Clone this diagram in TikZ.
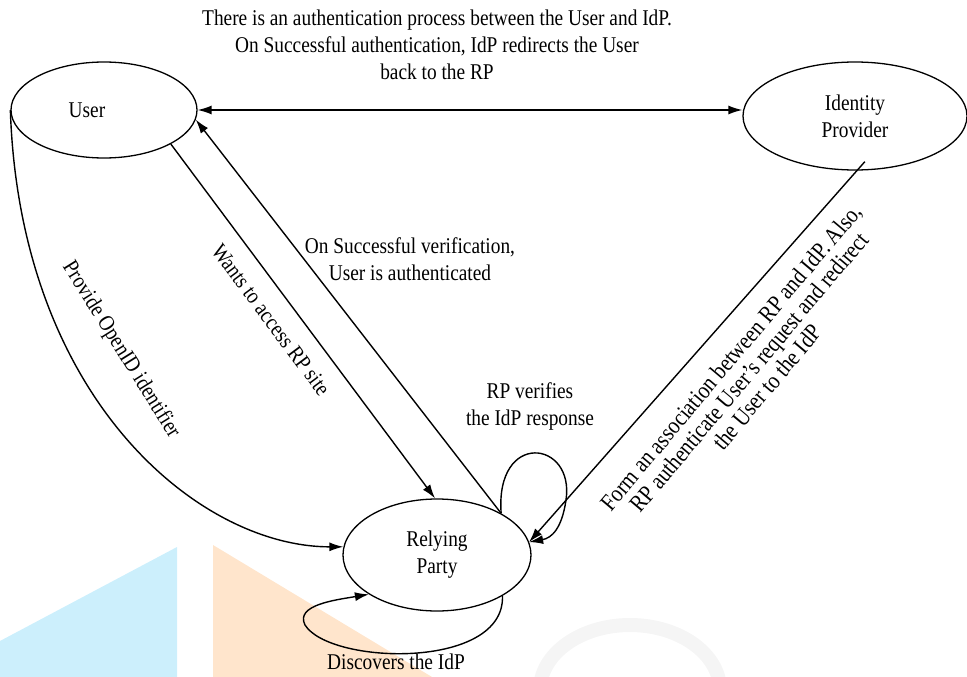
\documentclass[tikz,border=0pt]{standalone}
\usepackage{fontspec}
\setmainfont{Liberation Serif}[FakeStretch=0.86]
\usetikzlibrary{shapes.geometric,arrows.meta}

\begin{document}
\begin{tikzpicture}[x=1pt,y=-1pt,
	every node/.style={font=\fontsize{22.5}{27}\selectfont},
	party/.style={ellipse,draw,line width=1.3pt,fill=white,inner sep=0pt},
	link/.style={line width=1.4pt},
	>={Latex[length=14pt,width=9pt]}]
	\useasboundingbox (0,0) rectangle (967,677);
	\fill[cyan!20] (0,641) -- (177,547) -- (177,677) -- (0,677) -- cycle;
	\fill[orange!20] (213,545) -- (432,677) -- (213,677) -- cycle;
	\draw[black!4,line width=14pt] (540,690) arc[start angle=180,end angle=360,x radius=90,y radius=65];
	\node[party,minimum width=186pt,minimum height=96pt,label={[xshift=-17pt]center:User}] (user) at (104,110) {};
	\node[party,minimum width=224pt,minimum height=108pt,align=center] (idp) at (855,116) {Identity\\Provider};
	\node[party,minimum width=188pt,minimum height=112pt,align=center] (rp) at (437,555) {Relying\\Party};
	\draw[link,<->] (user.east) -- (user.east -| idp.west);
	\draw[link,->] (rp.33) -- (user.-6);
	\draw[link,->] (user.-27) -- (rp.92);
	\draw[link,->] (user.180) .. controls (20,400) and (200,547) .. (rp.175);
	\draw[link,->,shorten <=-12pt] (idp.-88) -- (rp.8);
	\draw[link,->] (rp.33) .. controls (495,430) and (575,440) .. (566,500) .. controls (562,528) and (552,538) .. (rp.8);
	\draw[link,->] (rp.-32) .. controls (505,670) and (330,665) .. (305,625) .. controls (295,605) and (335,600) .. (rp.-150);
	\node[align=center] (auth) at (437,45) {There is an authentication process between the User and IdP.\\On Successful authentication, IdP redirects the User\\back to the RP};
	\node[align=center] (verif) at (410,259) {On Successful verification,\\User is authenticated};
	\node[rotate=-53.3] (wants) at (271,320) {Wants to access RP site};
	\node[rotate=-58] (openid) at (121,350) {Provide OpenID identifier};
	\node[align=center] (check) at (530,406) {RP verifies\\the IdP response};
	\node (disc) at (396,662) {Discovers the IdP};
	\node[rotate=50,align=center,font=\fontsize{24}{23.5}\selectfont] (assoc) at (749,372) {Form an association between RP and IdP. Also,\\RP authenticate User’s request and redirect\\the User to the IdP};
\end{tikzpicture}
\end{document}
